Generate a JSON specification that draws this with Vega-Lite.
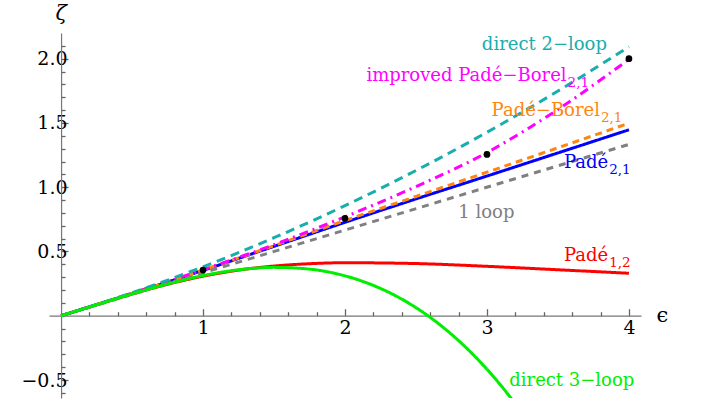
{
  "$schema": "https://vega.github.io/schema/vega-lite/v6.json",
  "width": 592,
  "height": 365,
  "autosize": "none",
  "padding": {"left": 49, "top": 33, "right": 63, "bottom": 12},
  "background": "white",
  "config": {
    "view": {"stroke": null},
    "font": "DejaVu Serif",
    "axis": {"grid": false, "title": null, "labelFont": "DejaVu Serif", "labelFontSize": 19, "labelColor": "black", "tickColor": "#666666", "tickWidth": 1.3, "domainColor": "#777777", "domainWidth": 1.2, "labelFlush": false, "labelOverlap": false},
    "text": {"font": "DejaVu Serif"}
  },
  "datasets": {
    "curves": [
      {"s": "p12", "x": 0, "y": 0}, {"s": "p12", "x": 0.25, "y": 0.0852}, {"s": "p12", "x": 0.5, "y": 0.1692}, {"s": "p12", "x": 0.75, "y": 0.2451}, {"s": "p12", "x": 1, "y": 0.3078}, {"s": "p12", "x": 1.25, "y": 0.355}, {"s": "p12", "x": 1.5, "y": 0.3867}, {"s": "p12", "x": 1.75, "y": 0.4049}, {"s": "p12", "x": 2, "y": 0.4125}, {"s": "p12", "x": 2.5, "y": 0.4061}, {"s": "p12", "x": 3, "y": 0.3846}, {"s": "p12", "x": 3.5, "y": 0.3578}, {"s": "p12", "x": 4, "y": 0.3305},
      {"s": "p21", "x": 0, "y": 0}, {"s": "p21", "x": 0.5, "y": 0.1736}, {"s": "p21", "x": 1, "y": 0.353}, {"s": "p21", "x": 1.5, "y": 0.54}, {"s": "p21", "x": 2, "y": 0.727}, {"s": "p21", "x": 2.5, "y": 0.909}, {"s": "p21", "x": 3, "y": 1.087}, {"s": "p21", "x": 3.5, "y": 1.267}, {"s": "p21", "x": 4, "y": 1.447},
      {"s": "loop1", "x": 0, "y": 0}, {"s": "loop1", "x": 4, "y": 1.3333},
      {"s": "pb", "x": 0, "y": 0}, {"s": "pb", "x": 0.5, "y": 0.174}, {"s": "pb", "x": 1, "y": 0.356}, {"s": "pb", "x": 1.5, "y": 0.545}, {"s": "pb", "x": 2, "y": 0.741}, {"s": "pb", "x": 2.5, "y": 0.928}, {"s": "pb", "x": 3, "y": 1.117}, {"s": "pb", "x": 3.5, "y": 1.307}, {"s": "pb", "x": 4, "y": 1.498},
      {"s": "ipb", "x": 0, "y": 0}, {"s": "ipb", "x": 0.5, "y": 0.175}, {"s": "ipb", "x": 1, "y": 0.358}, {"s": "ipb", "x": 1.5, "y": 0.553}, {"s": "ipb", "x": 2, "y": 0.77}, {"s": "ipb", "x": 2.5, "y": 1.005}, {"s": "ipb", "x": 3, "y": 1.27}, {"s": "ipb", "x": 3.25, "y": 1.43}, {"s": "ipb", "x": 3.5, "y": 1.605}, {"s": "ipb", "x": 3.75, "y": 1.795}, {"s": "ipb", "x": 4, "y": 1.995},
      {"s": "two", "x": 0, "y": 0}, {"s": "two", "x": 0.5, "y": 0.1785}, {"s": "two", "x": 1, "y": 0.3808}, {"s": "two", "x": 1.5, "y": 0.6069}, {"s": "two", "x": 2, "y": 0.8567}, {"s": "two", "x": 2.5, "y": 1.1302}, {"s": "two", "x": 3, "y": 1.4275}, {"s": "two", "x": 3.5, "y": 1.7485}, {"s": "two", "x": 4, "y": 2.0933},
      {"s": "three", "x": 0, "y": 0}, {"s": "three", "x": 0.25, "y": 0.0852}, {"s": "three", "x": 0.5, "y": 0.17}, {"s": "three", "x": 0.75, "y": 0.2479}, {"s": "three", "x": 1, "y": 0.3125}, {"s": "three", "x": 1.25, "y": 0.3575}, {"s": "three", "x": 1.5, "y": 0.3764}, {"s": "three", "x": 1.75, "y": 0.3627}, {"s": "three", "x": 2, "y": 0.3103}, {"s": "three", "x": 2.1, "y": 0.277}, {"s": "three", "x": 2.2, "y": 0.2359}, {"s": "three", "x": 2.3, "y": 0.187}, {"s": "three", "x": 2.4, "y": 0.1294}, {"s": "three", "x": 2.5, "y": 0.063}, {"s": "three", "x": 2.6, "y": -0.0126}, {"s": "three", "x": 2.7, "y": -0.098}, {"s": "three", "x": 2.8, "y": -0.1936}, {"s": "three", "x": 2.9, "y": -0.2996}, {"s": "three", "x": 3, "y": -0.4166}, {"s": "three", "x": 3.1, "y": -0.545}, {"s": "three", "x": 3.2, "y": -0.685}, {"s": "three", "x": 3.3, "y": -0.837}
    ],
    "dots": [
      {"x": 1, "y": 0.355}, {"x": 2, "y": 0.757}, {"x": 3, "y": 1.255}, {"x": 4, "y": 2.0}
    ],
    "rlabels": [
      {"s": "two", "x": 3.845, "y": 2.066, "t": "direct 2−loop"},
      {"s": "ipb", "x": 3.561, "y": 1.825, "t": "improved Padé−Borel"},
      {"s": "pb", "x": 3.796, "y": 1.553, "t": "Padé−Borel"},
      {"s": "p21", "x": 3.854, "y": 1.146, "t": "Padé"},
      {"s": "p12", "x": 3.854, "y": 0.428, "t": "Padé"}
    ],
    "subs": [
      {"s": "ipb", "x": 3.561, "y": 1.825, "t": "2,1"},
      {"s": "pb", "x": 3.796, "y": 1.553, "t": "2,1"},
      {"s": "p21", "x": 3.854, "y": 1.146, "t": "2,1"},
      {"s": "p12", "x": 3.854, "y": 0.428, "t": "1,2"}
    ],
    "llabels": [
      {"s": "loop1", "x": 2.798, "y": 0.757, "t": "1 loop"},
      {"s": "three", "x": 3.157, "y": -0.547, "t": "direct 3−loop"}
    ],
    "titles": [
      {"x": 4.195, "y": -0.05, "t": "ϵ"}
    ],
    "ytitle": [
      {"x": 0, "y": 2.3, "t": "ζ"}
    ]
  },
  "resolve": {"axis": {"x": "independent", "y": "independent"}},
  "layer": [
    {
      "data": {"name": "curves"},
      "mark": {"type": "line", "clip": true, "interpolate": "monotone"},
      "encoding": {
        "x": {"field": "x", "type": "quantitative", "scale": {"domain": [-0.085, 4.085], "nice": false, "zero": false},
              "axis": {"orient": "bottom", "offset": -82.3, "values": [1, 2, 3, 4], "format": "d", "tickSize": -7, "labelPadding": 10}},
        "y": {"field": "y", "type": "quantitative", "scale": {"domain": [-0.64, 2.2], "nice": false, "zero": false},
              "axis": {"orient": "left", "offset": -12.07, "values": [-0.5, 0.5, 1, 1.5, 2], "format": ".1f", "tickSize": -7, "labelPadding": 1}},
        "color": {"field": "s", "type": "nominal", "legend": null,
                  "scale": {"domain": ["p12", "p21", "loop1", "pb", "ipb", "two", "three"],
                            "range": ["#ff0000", "#0000ff", "#808080", "#ff8510", "#ff00ff", "#19adad", "#00ee00"]}},
        "strokeDash": {"field": "s", "type": "nominal", "legend": null,
                  "scale": {"domain": ["p12", "p21", "loop1", "pb", "ipb", "two", "three"],
                            "range": [[1, 0], [1, 0], [7, 6], [7, 5], [9, 5, 2, 5], [9, 6], [1, 0]]}},
        "strokeWidth": {"field": "s", "type": "nominal", "legend": null,
                  "scale": {"domain": ["p12", "p21", "loop1", "pb", "ipb", "two", "three"],
                            "range": [3, 3, 3.5, 3.5, 3.5, 3.5, 3]}}
      }
    },
    {
      "data": {"name": "dots"},
      "mark": {"type": "point", "filled": true, "color": "black", "size": 45, "opacity": 1},
      "encoding": {
        "x": {"field": "x", "type": "quantitative",
              "axis": {"orient": "bottom", "offset": -82.3, "values": [0.2, 0.4, 0.6, 0.8, 1.2, 1.4, 1.6, 1.8, 2.2, 2.4, 2.6, 2.8, 3.2, 3.4, 3.6, 3.8], "tickSize": -4, "labels": false, "domain": false}},
        "y": {"field": "y", "type": "quantitative",
              "axis": {"orient": "left", "offset": -12.07, "values": [-0.6, -0.4, -0.3, -0.2, -0.1, 0.1, 0.2, 0.3, 0.4, 0.6, 0.7, 0.8, 0.9, 1.1, 1.2, 1.3, 1.4, 1.6, 1.7, 1.8, 1.9, 2.1], "tickSize": -4, "labels": false, "domain": false}}
      }
    },
    {
      "data": {"name": "rlabels"},
      "mark": {"type": "text", "align": "right", "baseline": "alphabetic", "fontSize": 18},
      "encoding": {
        "x": {"field": "x", "type": "quantitative", "axis": null},
        "y": {"field": "y", "type": "quantitative", "axis": null},
        "text": {"field": "t"},
        "color": {"field": "s", "type": "nominal", "legend": null}
      }
    },
    {
      "data": {"name": "subs"},
      "mark": {"type": "text", "align": "left", "baseline": "alphabetic", "fontSize": 13.5, "dx": 1, "dy": 6},
      "encoding": {
        "x": {"field": "x", "type": "quantitative", "axis": null},
        "y": {"field": "y", "type": "quantitative", "axis": null},
        "text": {"field": "t"},
        "color": {"field": "s", "type": "nominal", "legend": null}
      }
    },
    {
      "data": {"name": "llabels"},
      "mark": {"type": "text", "align": "left", "baseline": "alphabetic", "fontSize": 18},
      "encoding": {
        "x": {"field": "x", "type": "quantitative", "axis": null},
        "y": {"field": "y", "type": "quantitative", "axis": null},
        "text": {"field": "t"},
        "color": {"field": "s", "type": "nominal", "legend": null}
      }
    },
    {
      "data": {"name": "titles"},
      "mark": {"type": "text", "align": "left", "baseline": "alphabetic", "fontSize": 21, "color": "black"},
      "encoding": {
        "x": {"field": "x", "type": "quantitative", "axis": null},
        "y": {"field": "y", "type": "quantitative", "axis": null},
        "text": {"field": "t"}
      }
    },
    {
      "data": {"name": "ytitle"},
      "mark": {"type": "text", "align": "center", "baseline": "alphabetic", "fontSize": 21, "fontStyle": "italic", "color": "black"},
      "encoding": {
        "x": {"field": "x", "type": "quantitative", "axis": null},
        "y": {"field": "y", "type": "quantitative", "axis": null},
        "text": {"field": "t"}
      }
    }
  ]
}
